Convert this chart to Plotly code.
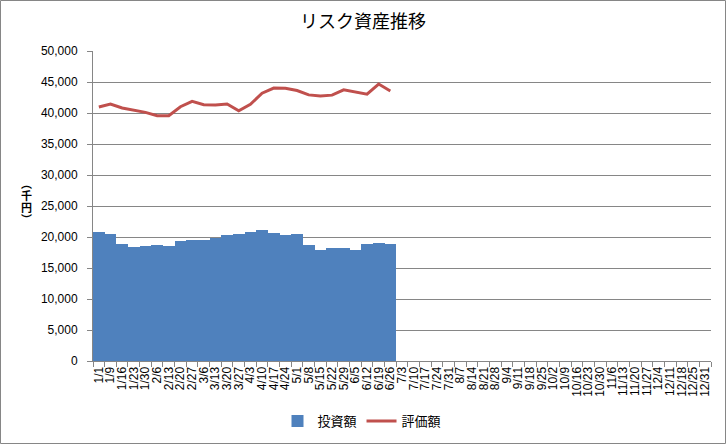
import plotly.graph_objects as go

categories = ["1/1", "1/9", "1/16", "1/23", "1/30", "2/6", "2/13", "2/20", "2/27", "3/6",
              "3/13", "3/20", "3/27", "4/3", "4/10", "4/17", "4/24", "5/1", "5/8", "5/15",
              "5/22", "5/29", "6/5", "6/12", "6/19", "6/26", "7/3", "7/10", "7/17", "7/24",
              "7/31", "8/7", "8/14", "8/21", "8/28", "9/4", "9/11", "9/18", "9/25", "10/2",
              "10/9", "10/16", "10/23", "10/30", "11/6", "11/13", "11/20", "11/27", "12/4",
              "12/11", "12/18", "12/25", "12/31"]

invest = [20800, 20500, 18900, 18400, 18500, 18700, 18500, 19350, 19500, 19500,
          19900, 20300, 20500, 20800, 21100, 20600, 20300, 20500, 18700, 17900,
          18200, 18200, 17900, 18900, 19000, 18900]

valuation = [40970, 41450, 40800, 40450, 40100, 39570, 39570, 41010, 41880, 41340,
             41300, 41450, 40370, 41400, 43200, 44020, 44000, 43620, 42920, 42740,
             42880, 43730, 43380, 43040, 44670, 43560]

y_ticks = [0, 5000, 10000, 15000, 20000, 25000, 30000, 35000, 40000, 45000, 50000]

y_title_chars = ["︵", "千", "円", "︶"]

n = len(invest)
FONT = "Liberation Sans, Noto Sans CJK JP, sans-serif"
JP = "Noto Sans CJK JP, sans-serif"

fig = go.Figure()
fig.add_trace(go.Bar(
    x=categories[:n], y=invest, name="投資額",
    marker=dict(color="#4F81BD", line=dict(width=0)),
))
fig.add_trace(go.Scatter(
    x=categories[:n], y=valuation, name="評価額", mode="lines",
    line=dict(color="#C0504D", width=3),
))

L, R, T, B = 93, 15, 51, 83
W, H = 726, 444
pw, ph = W - L - R, H - T - B

fig.update_layout(
    width=W, height=H,
    margin=dict(l=L, r=R, t=T, b=B, autoexpand=False),
    paper_bgcolor="white", plot_bgcolor="white",
    bargap=0,
    showlegend=True,
    title=dict(text="リスク資産推移", x=0.5, xanchor="center", y=1 - 22 / H, yanchor="middle",
               font=dict(family=JP, size=18, color="black")),
    legend=dict(orientation="h", x=(362 - L) / pw, xanchor="center",
                y=-(421 - (T + ph)) / ph, yanchor="middle",
                font=dict(family=JP, size=13, color="black"),
                bgcolor="rgba(0,0,0,0)"),
    xaxis=dict(
        type="category", categoryorder="array", categoryarray=categories,
        range=[-0.5, len(categories) - 0.5], automargin=False,
        tickmode="array", tickvals=categories, ticktext=categories,
        tickangle=-90, tickfont=dict(family=FONT, size=12, color="black"),
        ticks="outside", tickson="boundaries", ticklen=5, tickcolor="#868686",
        showline=True, linecolor="#868686", linewidth=1,
        showgrid=False, zeroline=False,
    ),
    yaxis=dict(
        range=[0, 50000], tickmode="array", tickvals=y_ticks, automargin=False,
        ticktext=[f"{v:,}" for v in y_ticks],
        tickfont=dict(family=FONT, size=12, color="black"),
        ticks="outside", ticklen=5, tickcolor="#868686", ticklabelstandoff=7,
        showline=True, linecolor="#868686", linewidth=1,
        showgrid=True, gridcolor="#868686", gridwidth=1,
        zeroline=False,
    ),
)

y_title_pos = [183, 195, 207, 219]
for ch, yp in zip(y_title_chars, y_title_pos):
    fig.add_annotation(
        text=f"<b>{ch}</b>", xref="paper", yref="paper",
        x=-(L - 26) / pw, y=(T + ph - yp) / ph,
        xanchor="center", yanchor="middle",
        showarrow=False, font=dict(family=JP, size=11, color="black"),
    )

fig.add_shape(
    type="rect", xref="paper", yref="paper",
    x0=(0.5 - L) / pw, x1=(W - 0.5 - L) / pw,
    y0=-(H - 0.5 - (T + ph)) / ph, y1=(T + ph - 0.5) / ph,
    line=dict(color="#868686", width=1), fillcolor="rgba(0,0,0,0)", layer="below",
)

fig.write_html("out.html", config={"displayModeBar": False},
               post_script="document.body.style.margin='0';document.body.style.overflow='hidden';")
